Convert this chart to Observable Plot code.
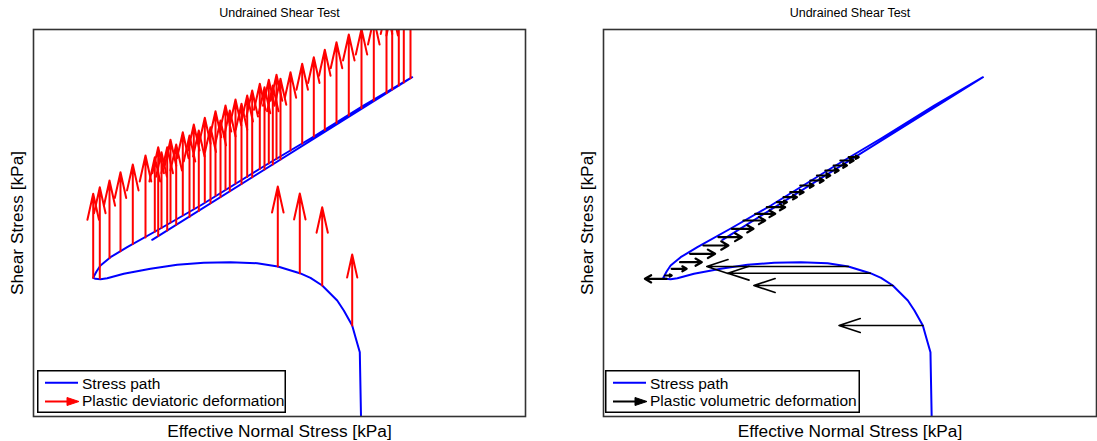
<!DOCTYPE html>
<html><head><meta charset="utf-8">
<script src="https://cdn.jsdelivr.net/npm/d3@7"></script>
<script src="https://cdn.jsdelivr.net/npm/@observablehq/plot@0.6"></script>
<style>
body{margin:0;background:#fff;font-family:"Liberation Sans",Arial,sans-serif;}
#wrap{position:relative;width:1097px;height:441px;display:flex;overflow:hidden;}
#wrap svg{display:block;overflow:visible;}
.legend{position:absolute;}
</style></head>
<body><div id="wrap"></div>
<script>
// Stress path (effective normal stress p, shear stress q), kPa
const pathP = [327.5,326.3,322,318.7,310.3,303.7,288.7,277,266.3,244.3,223.7,197,170.3,143.7,117,90.3,73.7,67,62,59.7,
  63,67,77,93.7,127,167,230,277,330,378.7, 118.7, 378.7];
const pathQ = [0,64.3,79.3,91,106,116,131,138.7,143.3,150,153.3,154.3,153.7,151.7,147.7,142.7,138.3,137.3,137.7,138.7,
  145,151,159.3,169.3,188,211,250,278,311,339.3, 176.7, 339.3];

// Plastic deviatoric deformation vectors (base p, base q, increment dq)
const devP  = [59.7,66.3,76,87,99.3,112,121.3,124.7,128,133.7,137,142.7,149.3,156,160.3,165.3,171.3,177,182,187,192,196.3,202,208,213.7,218.7,226.3,231,235.3,239.3,243,247,257,268.7,280.3,291.3,303,315.3,328,340.3,353,358.7,365.3,370.3,377, 244.3,266.3,288.7,318.7];
const devQ  = [138.7,138,158.5,165.3,172.4,179,184.8,180.5,188.6,186.1,194,191.7,201.4,199.6,208,205.6,214.6,213.3,221,219.6,227,225.2,233,232.5,239.6,239.2,247.6,246.9,253,252,257.6,256.9,266,273,280,286.6,293.6,301,308.6,316,323.6,327,331,334,338.2, 150,143.3,131,91];
const devDq = [84,91.3,77.5,79,79.6,82,74.5,88.8,75.7,83.2,82.7,80.3,82.9,81.4,84,80.4,84.1,76,84.3,76.4,84,80.8,84,80.2,81.4,86.8,85.1,82.4,83.7,79,84.1,80.8,78.3,79.7,79.3,80.1,80.7,81,79,82,85,80,90,85,90, 80,79.7,78.3,71];

// Plastic volumetric deformation vectors (base p, base q, increment dp)
const volP  = [244.7,236.4,229.7,221.4,213,206.4,196.4,186.4,179.7,173,163,151.4,139.7,128,114.7,99.7,86.4,76.4,68,61.4,63];
const volQ  = [259.3,256,251,246,241,236,231,224.3,219.3,214.3,209.3,202.7,196,187.7,179.3,171,162.7,154.3,147.7,141,137.7];
const volDp = [10,13.3,13.3,13.3,13.3,13.3,13.3,13.3,13.3,10,18.3,20,21.7,21.7,23.3,25,25,21.7,15,6.7,-21.7];
const volBigP  = [244.3,266.3,288.7,318.7];
const volBigQ  = [150,143.3,131,91];
const volBigDp = [-141.3,-142.3,-138.7,-83.7];

const title = "Undrained Shear Test";
const xLabel = "Effective Normal Stress [kPa]";
const yLabel = "Shear Stress [kPa]";
const legendLabels = [["Stress path","Plastic deviatoric deformation"],["Stress path","Plastic volumetric deformation"]];

const pathIdx = d3.range(pathP.length);
const devIdx = d3.range(devP.length);
const volIdx = d3.range(volP.length);
const volBigIdx = d3.range(volBigP.length);

function panel(width, marginLeft, marginRight, extra) {
  return Plot.plot({
    width, height: 441, marginLeft, marginRight, marginTop: 29, marginBottom: 25,
    x: {domain: [0, 492], axis: null},
    y: {domain: [0, 387], axis: null},
    style: {fontFamily: "Liberation Sans, Arial, sans-serif", background: "transparent", overflow: "visible", color: "#000"},
    marks: [
      Plot.line(pathIdx, {x: i => pathP[i], y: i => pathQ[i], stroke: "#0000ff", strokeWidth: 2, clip: true}),
      ...extra,
      Plot.frame({stroke: "#333", strokeWidth: 1.6}),
      Plot.text([title], {text: d => d, frameAnchor: "top", lineAnchor: "middle", textAnchor: "middle", dy: -17, fontSize: 12.5, fill: "#000"}),
      Plot.text([xLabel], {text: d => d, frameAnchor: "bottom", lineAnchor: "middle", textAnchor: "middle", dy: 15, fontSize: 17.3, fill: "#000"}),
      Plot.text([yLabel], {text: d => d, frameAnchor: "left", lineAnchor: "middle", textAnchor: "middle", dx: -16, rotate: -90, fontSize: 17.3, fill: "#000"})
    ]
  });
}

const left = panel(571, 33, 46, [
  Plot.arrow(devIdx, {x1: i => devP[i], y1: i => devQ[i], x2: i => devP[i], y2: i => devQ[i] + devDq[i],
    stroke: "#ff0000", strokeWidth: 2, headLength: 20, headAngle: 25, clip: true})
]);
const right = panel(526, 32, 1, [
  Plot.arrow(volIdx, {x1: i => volP[i], y1: i => volQ[i], x2: i => volP[i] + volDp[i], y2: i => volQ[i],
    stroke: "#000", strokeWidth: 2.2, headLength: 12, headAngle: 60, clip: true}),
  Plot.arrow(volBigIdx, {x1: i => volBigP[i], y1: i => volBigQ[i], x2: i => volBigP[i] + volBigDp[i], y2: i => volBigQ[i],
    stroke: "#000", strokeWidth: 1.6, headLength: 21, headAngle: 36, clip: true})
]);
const wrap = document.getElementById("wrap");
wrap.appendChild(left);
wrap.appendChild(right);

function legend(x, w, labels, color) {
  const svg = d3.select(wrap).append("svg").attr("class", "legend")
    .style("left", x + "px").style("top", "370px").attr("width", w).attr("height", 43)
    .style("font-family", "Liberation Sans, Arial, sans-serif");
  svg.append("rect").attr("x", 0.75).attr("y", 0.75).attr("width", w - 1.5).attr("height", 41.5)
    .attr("fill", "#fff").attr("stroke", "#000").attr("stroke-width", 1.5);
  svg.append("line").attr("x1", 8).attr("x2", 41).attr("y1", 12.7).attr("y2", 12.7)
    .attr("stroke", "#0000ff").attr("stroke-width", 2);
  svg.append("line").attr("x1", 8).attr("x2", 36).attr("y1", 31.5).attr("y2", 31.5)
    .attr("stroke", color).attr("stroke-width", 2);
  svg.append("path").attr("d", "M30,27.5L42,31.5L30,35.5Z").attr("fill", color).attr("stroke", color).attr("stroke-width", 1);
  svg.append("text").attr("x", 45).attr("y", 19.3).attr("font-size", 15.5).attr("fill", "#000").text(labels[0]);
  svg.append("text").attr("x", 45).attr("y", 36.3).attr("font-size", 15.5).attr("fill", "#000").text(labels[1]);
}
legend(37, 249, legendLabels[0], "#ff0000");
legend(605, 255, legendLabels[1], "#000");
</script>
</body></html>
